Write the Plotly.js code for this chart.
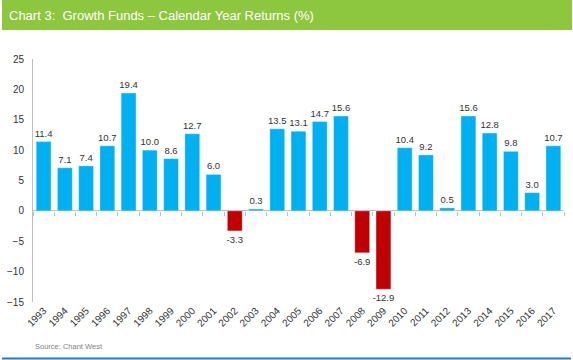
<!DOCTYPE html>
<html>
<head>
<meta charset="utf-8">
<script src="https://cdn.plot.ly/plotly-3.0.1.min.js"></script>
<style>html,body{margin:0;padding:0;background:#fff;}#chart{width:573px;height:360px;}</style>
</head>
<body>
<div id="chart"></div>
<script>
const years = ["1993","1994","1995","1996","1997","1998","1999","2000","2001","2002","2003","2004","2005","2006","2007","2008","2009","2010","2011","2012","2013","2014","2015","2016","2017"];
const returns = [11.4,7.1,7.4,10.7,19.4,10.0,8.6,12.7,6.0,-3.3,0.3,13.5,13.1,14.7,15.6,-6.9,-12.9,10.4,9.2,0.5,15.6,12.8,9.8,3.0,10.7];
const titleText = "Chart 3:  Growth Funds \u2013 Calendar Year Returns (%)";
const sourceText = "Source: Chant West";

const W = 573, H = 360;
const mL = 33, mR = 9, mT = 59, mB = 58;
const pw = W - mL - mR, ph = H - mT - mB;
const px = x => (x - mL) / pw;
const py = y => (H - mB - y) / ph;
const yMin = -15, yMax = 25;

const colors = returns.map(v => v < 0 ? "#c00000" : "#00b0f0");

const traces = [
  {
    type: "bar", x: years, y: returns,
    marker: {color: colors, line: {color: "rgba(255,255,255,0.35)", width: 1}},
    texttemplate: "%{y:.1f}", textposition: "outside", cliponaxis: false,
    constraintext: "none",
    textfont: {family: "Liberation Sans, Arial, sans-serif", size: 9.5, color: "#333333"},
    hoverinfo: "skip", showlegend: false
  },
  {
    type: "scatter", x: years, y: returns, xaxis: "x2", mode: "none",
    hoverinfo: "skip", showlegend: false
  }
];

const layout = {
  width: W, height: H,
  margin: {l: mL, r: mR, t: mT, b: mB, pad: 0},
  paper_bgcolor: "#ffffff", plot_bgcolor: "#ffffff",
  bargap: 0.3,
  font: {family: "Liberation Sans, Arial, sans-serif", color: "#333333"},
  title: {
    text: titleText,
    font: {family: "Liberation Sans Narrow, Arial Narrow, Liberation Sans, sans-serif", size: 13, color: "#ffffff"},
    x: 9 / W, xanchor: "left", xref: "container",
    y: 1 - 15 / H, yanchor: "middle", yref: "container"
  },
  xaxis: {
    type: "category", categoryarray: years, range: [-0.5, years.length - 0.5],
    showline: false, showgrid: false, zeroline: false, ticks: "",
    tickangle: -45, tickfont: {size: 10, color: "#333333"}, fixedrange: true
  },
  xaxis2: {
    type: "category", categoryarray: years, range: [-0.5, years.length - 0.5],
    overlaying: "x", anchor: "free", position: (0 - yMin) / (yMax - yMin), side: "bottom",
    showline: false, showgrid: false, zeroline: false, showticklabels: false,
    ticks: "outside", tickson: "boundaries", ticklen: 4, tickcolor: "#bfbfbf", tickwidth: 1
  },
  yaxis: {
    range: [yMin, yMax], dtick: 5, tick0: 0,
    showline: true, linecolor: "#bfbfbf", linewidth: 1,
    showgrid: false, zeroline: true, zerolinecolor: "#bfbfbf", zerolinewidth: 1,
    ticks: "", tickfont: {size: 10, color: "#333333"}, ticklabelstandoff: 6
  },
  shapes: [
    {type: "rect", xref: "paper", yref: "paper", layer: "below",
     x0: px(2), x1: px(572), y0: py(30), y1: py(-2),
     fillcolor: "#8dc63f", line: {width: 0}},
    {type: "line", xref: "paper", yref: "paper",
     x0: px(2), x1: px(571), y0: py(358.5), y1: py(358.5),
     line: {color: "#1a7fd0", width: 2}}
  ],
  annotations: [
    {text: sourceText, xref: "paper", yref: "paper", x: px(33), y: py(346),
     xanchor: "left", yanchor: "middle", showarrow: false,
     font: {family: "Liberation Sans Narrow, Arial Narrow, Liberation Sans, sans-serif", size: 7.5, color: "#7f7f7f"}}
  ]
};

Plotly.newPlot("chart", traces, layout, {displayModeBar: false, staticPlot: true});
</script>
</body>
</html>
